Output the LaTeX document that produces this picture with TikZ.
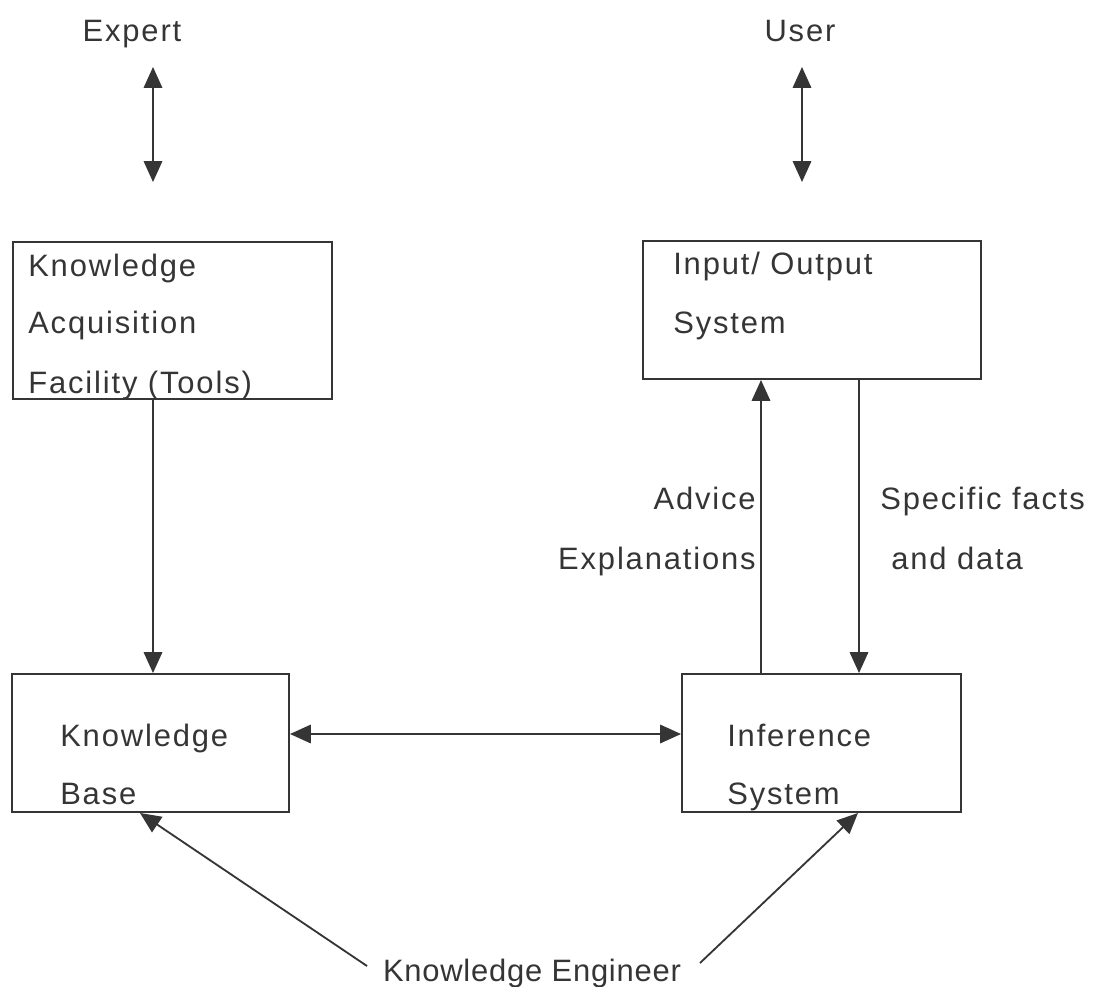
\documentclass[tikz,border=0pt]{standalone}
\usepackage{fontspec}
\setmainfont{Liberation Sans}[LetterSpace=6.0]
\usetikzlibrary{arrows.meta,fit}
\definecolor{ink}{HTML}{353535}
\begin{document}
\begin{tikzpicture}[x=0.025cm,y=-0.025cm,
  font=\fontsize{22}{26}\selectfont,
  box/.style={draw=ink,line width=1.4pt,inner sep=0pt},
  lbl/.style={text=ink,inner sep=0pt,anchor=base west},
  lblr/.style={text=ink,inner sep=0pt,anchor=base east},
  lblc/.style={text=ink,inner sep=0pt,anchor=base},
  arr/.style={draw=ink,line width=1.3pt,-{Triangle[length=0.52cm,width=0.46cm]}},
  dbl/.style={draw=ink,line width=1.3pt,{Triangle[length=0.52cm,width=0.46cm]}-{Triangle[length=0.52cm,width=0.46cm]}}]
\useasboundingbox (0,0) rectangle (1096,986);

% outside actors
\node[lblc] (expert) at (132,41) {Expert};
\node[lblc] (user) at (800,41) {User};
\node[lblc, font=\fontsize{22}{26}\selectfont\addfontfeature{LetterSpace=2.5}] (ke) at (532,981) {Knowledge Engineer};

% boxes
\node[box, fit={(13,242) (332,399)}] (kaf) {};
\node[box, fit={(643,241) (981,379)}] (io) {};
\node[box, fit={(12,674) (289,812)}] (kb) {};
\node[box, fit={(682,674) (961,812)}] (inf) {};

% box texts
\node[lbl] (kaf1) at (28,276) {Knowledge};
\node[lbl] (kaf2) at (28,333) {Acquisition};
\node[lbl] (kaf3) at (28,393) {Facility (Tools)};
\node[lbl] (io1) at (673,274) {Input/ Output};
\node[lbl] (io2) at (673,333) {System};
\node[lbl] (kb1) at (60,746) {Knowledge};
\node[lbl] (kb2) at (60,804) {Base};
\node[lbl] (inf1) at (727,746) {Inference};
\node[lbl] (inf2) at (727,804) {System};

% flow labels
\node[lblr] (adv) at (756,509) {Advice};
\node[lblr] (expl) at (756,569) {Explanations};
\node[lbl] (spec) at (880,509) {Specific facts};
\node[lbl] (data) at (891,569) {and data};

% reference coordinates for connector positions
\coordinate (e1) at (153,67);
\coordinate (e2) at (153,182);
\coordinate (u1) at (802,67);
\coordinate (u2) at (802,182);
\coordinate (xk) at (153,0);
\coordinate (yh) at (0,734);
\coordinate (xu) at (761,0);
\coordinate (xd) at (859,0);
\coordinate (xl) at (140,0);
\coordinate (xr) at (858,0);
\coordinate (kel) at (367,966);
\coordinate (ker) at (700,963);

% connectors
\draw[dbl] (e1) -- (e2);
\draw[dbl] (u1) -- (u2);
\draw[arr] (kaf.south -| xk) -- (kb.north -| xk);
\draw[dbl] (kb.east |- yh) -- (inf.west |- yh);
\draw[arr] (inf.north -| xu) -- (io.south -| xu);
\draw[arr] (io.south -| xd) -- (inf.north -| xd);
\draw[arr] (kel) -- (kb.south -| xl);
\draw[arr] (ker) -- (inf.south -| xr);
\end{tikzpicture}
\end{document}
